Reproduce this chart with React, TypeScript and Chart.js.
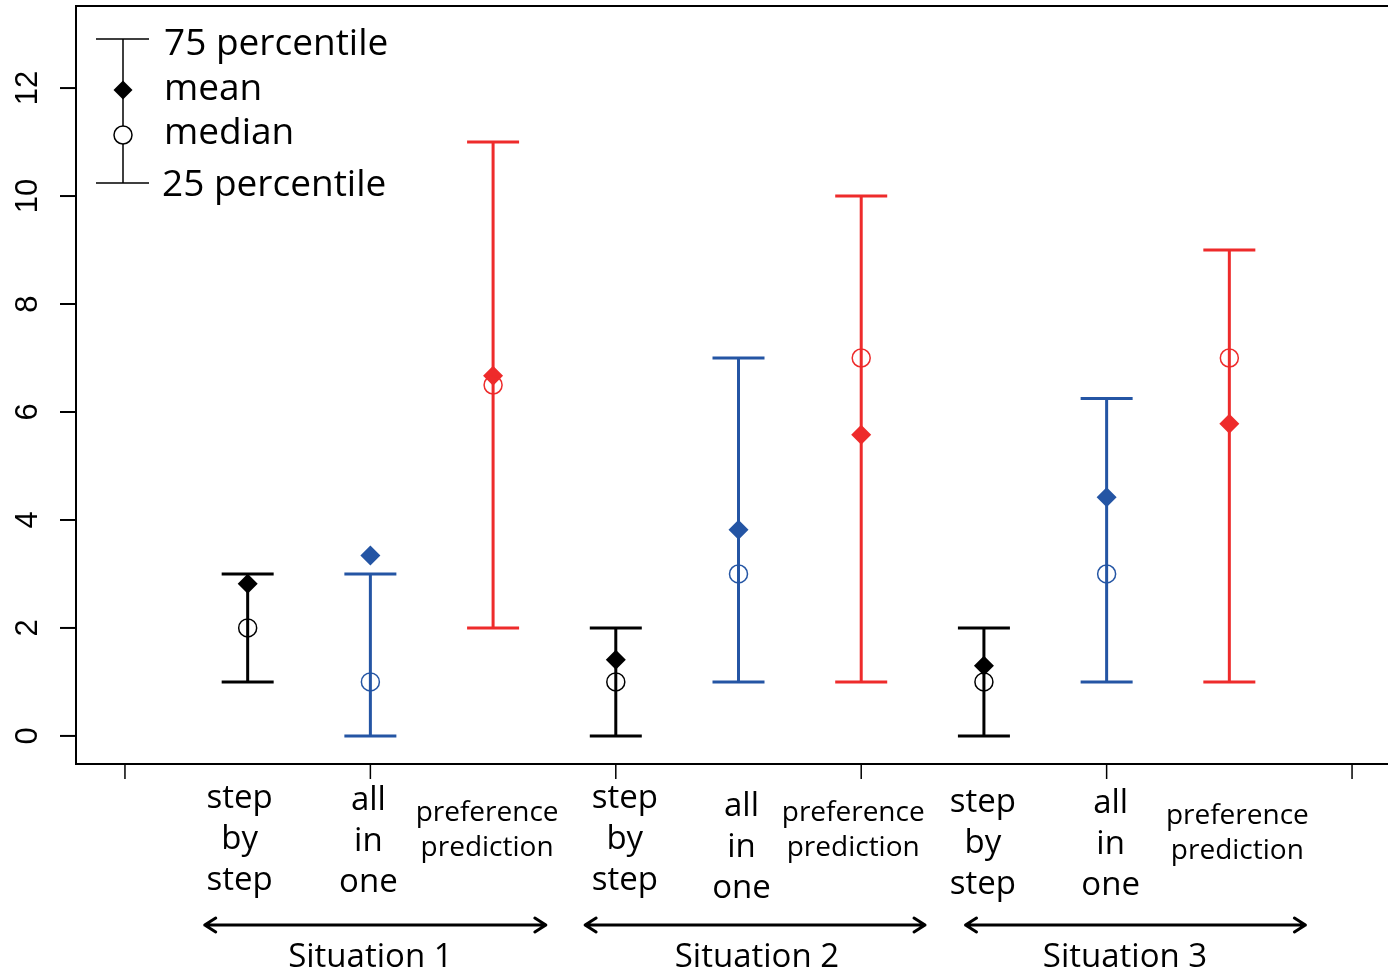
import React, { useEffect, useRef } from "react";
import { Chart, registerables } from "chart.js";

Chart.register(...registerables);

// ---------- data ----------
const categories = [
  ["step", "by", "step"],
  ["all", "in", "one"],
  ["preference", "prediction"],
  ["step", "by", "step"],
  ["all", "in", "one"],
  ["preference", "prediction"],
  ["step", "by", "step"],
  ["all", "in", "one"],
  ["preference", "prediction"],
];
const positions = [1, 2, 3, 4, 5, 6, 7, 8, 9];
const q25 = [1, 0, 2, 0, 1, 1, 0, 1, 1];
const q75 = [3, 3, 11, 2, 7, 10, 2, 6.25, 9];
const means = [2.82, 3.34, 6.67, 1.41, 3.82, 5.58, 1.3, 4.42, 5.78];
const medians = [2, 1, 6.5, 1, 3, 7, 1, 3, 7];
const situations = ["Situation 1", "Situation 2", "Situation 3"];
const situationLabelAt = [2, 5.15, 8.15];
const situationFrom = [0.65, 3.75, 6.85];
const situationTo = [3.43, 6.52, 9.62];
const yTicks = [0, 2, 4, 6, 8, 10, 12];
const xTicks = [0, 2, 4, 6, 8, 10];
const legendLabels = ["75 percentile", "mean", "median", "25 percentile"];

// ---------- styles ----------
const BLACK = "#000000";
const BLUE = "#2455A4";
const RED = "#EE2B2B";
const pointColors = [BLACK, BLUE, RED, BLACK, BLUE, RED, BLACK, BLUE, RED];
// small horizontal nudges (px) and first-line baselines for category labels
const labelNudge = [-8, -2, -6, 9, 3, -8, -1, 4, 8];
const labelBaseline = [808, 810, 821, 808, 816, 821, 812, 813, 824];
const FONT = "'Open Sans', 'DejaVu Sans', sans-serif";

const overlay = {
  id: "overlay",
  beforeDraw(chart: any) {
    const ctx = chart.ctx;
    ctx.save();
    ctx.fillStyle = "#ffffff";
    ctx.fillRect(0, 0, chart.width, chart.height);
    ctx.restore();
  },
  beforeDatasetsDraw(chart: any) {
    const ctx = chart.ctx;
    const xs = chart.scales.x;
    const ys = chart.scales.y;
    ctx.save();
    ctx.lineWidth = 3;
    ctx.lineCap = "butt";
    positions.forEach((p, i) => {
      const x = xs.getPixelForValue(p);
      const y1 = ys.getPixelForValue(q25[i]);
      const y2 = ys.getPixelForValue(q75[i]);
      ctx.strokeStyle = pointColors[i];
      ctx.beginPath();
      ctx.moveTo(x, y1);
      ctx.lineTo(x, y2);
      ctx.moveTo(x - 26, y1);
      ctx.lineTo(x + 26, y1);
      ctx.moveTo(x - 26, y2);
      ctx.lineTo(x + 26, y2);
      ctx.stroke();
    });
    ctx.restore();
  },
  afterDraw(chart: any) {
    const ctx = chart.ctx;
    const xs = chart.scales.x;
    const ys = chart.scales.y;
    const area = chart.chartArea;
    ctx.save();
    // frame (left, top, bottom)
    ctx.strokeStyle = "#000";
    ctx.lineWidth = 2;
    ctx.beginPath();
    ctx.moveTo(chart.width, area.top);
    ctx.lineTo(area.left, area.top);
    ctx.lineTo(area.left, area.bottom);
    ctx.lineTo(chart.width, area.bottom);
    ctx.stroke();

    // y ticks + labels
    ctx.fillStyle = "#000";
    ctx.font = "31px 'Liberation Sans', Arial, sans-serif";
    ctx.textAlign = "center";
    ctx.textBaseline = "middle";
    yTicks.forEach((t) => {
      const y = ys.getPixelForValue(t);
      ctx.beginPath();
      ctx.moveTo(area.left - 16, y);
      ctx.lineTo(area.left, y);
      ctx.stroke();
      ctx.save();
      ctx.translate(28, y);
      ctx.rotate(-Math.PI / 2);
      ctx.fillText(String(t), 0, 0);
      ctx.restore();
    });

    // x ticks
    ctx.lineWidth = 1.5;
    xTicks.forEach((t) => {
      const x = xs.getPixelForValue(t);
      ctx.beginPath();
      ctx.moveTo(x, area.bottom);
      ctx.lineTo(x, area.bottom + 15);
      ctx.stroke();
    });

    // category labels
    ctx.textAlign = "center";
    ctx.textBaseline = "alphabetic";
    categories.forEach((lines, i) => {
      const x = xs.getPixelForValue(positions[i]) + labelNudge[i];
      const isPref = lines.length === 2;
      ctx.font = (isPref ? "28px " : "33px ") + FONT;
      const step = isPref ? 35 : 41;
      lines.forEach((s, k) => {
        ctx.fillText(s, x, labelBaseline[i] + k * step);
      });
    });

    // situation arrows + labels
    ctx.lineWidth = 3;
    ctx.lineCap = "round";
    ctx.lineJoin = "round";
    situations.forEach((s, g) => {
      const xa = xs.getPixelForValue(situationFrom[g]);
      const xb = xs.getPixelForValue(situationTo[g]);
      const ya = 925;
      ctx.beginPath();
      ctx.moveTo(xa, ya);
      ctx.lineTo(xb, ya);
      ctx.moveTo(xa + 11, ya - 7);
      ctx.lineTo(xa, ya);
      ctx.lineTo(xa + 11, ya + 7);
      ctx.moveTo(xb - 11, ya - 7);
      ctx.lineTo(xb, ya);
      ctx.lineTo(xb - 11, ya + 7);
      ctx.stroke();
      ctx.font = "33px " + FONT;
      ctx.fillText(s, xs.getPixelForValue(situationLabelAt[g]), 967);
    });

    // legend
    ctx.lineWidth = 1.5;
    ctx.lineCap = "butt";
    ctx.beginPath();
    ctx.moveTo(123, 39);
    ctx.lineTo(123, 183);
    ctx.moveTo(96, 39);
    ctx.lineTo(149, 39);
    ctx.moveTo(96, 183);
    ctx.lineTo(149, 183);
    ctx.stroke();
    ctx.fillStyle = "#000";
    ctx.beginPath();
    ctx.moveTo(123 - 9.5, 90);
    ctx.lineTo(123, 90 - 9.5);
    ctx.lineTo(123 + 9.5, 90);
    ctx.lineTo(123, 90 + 9.5);
    ctx.closePath();
    ctx.fill();
    ctx.fillStyle = "#fff";
    ctx.beginPath();
    ctx.arc(123, 135, 9, 0, Math.PI * 2);
    ctx.fill();
    ctx.stroke();
    ctx.fillStyle = "#000";
    ctx.textAlign = "left";
    ctx.font = "37px " + FONT;
    const lx = [164, 164, 164, 162];
    const lb = [55, 100, 144, 196];
    legendLabels.forEach((s, k) => ctx.fillText(s, lx[k], lb[k]));
    ctx.restore();
  },
};

export default function App() {
  const ref = useRef<HTMLCanvasElement | null>(null);
  useEffect(() => {
    if (!ref.current) return;
    const chart = new Chart(ref.current, {
      type: "scatter",
      data: {
        datasets: [
          {
            label: "median",
            data: positions.map((p, i) => ({ x: p, y: medians[i] })),
            pointStyle: "circle",
            pointRadius: 9,
            pointBorderWidth: 1.5,
            pointBackgroundColor: "rgba(255,255,255,0)",
            pointBorderColor: pointColors,
            showLine: false,
          },
          {
            label: "mean",
            data: positions.map((p, i) => ({ x: p, y: means[i] })),
            pointStyle: "rectRot",
            pointRadius: 10,
            pointBorderWidth: 0,
            pointBackgroundColor: pointColors,
            pointBorderColor: pointColors,
            showLine: false,
          },
        ],
      },
      options: {
        responsive: false,
        animation: false,
        events: [],
        layout: { autoPadding: false, padding: { left: 76, top: 6, right: 0, bottom: 209 } },
        scales: {
          x: { type: "linear", min: -0.399, max: 10.293, display: false },
          y: { type: "linear", min: -0.52, max: 13.52, display: false },
        },
        plugins: { legend: { display: false }, tooltip: { enabled: false } },
      },
      plugins: [overlay],
    });
    return () => chart.destroy();
  }, []);
  return (
    <div style={{ position: "fixed", left: 0, top: 0, width: 1388, height: 973, background: "#fff" }}>
      <canvas ref={ref} width={1388} height={973} style={{ width: 1388, height: 973, display: "block" }} />
    </div>
  );
}
